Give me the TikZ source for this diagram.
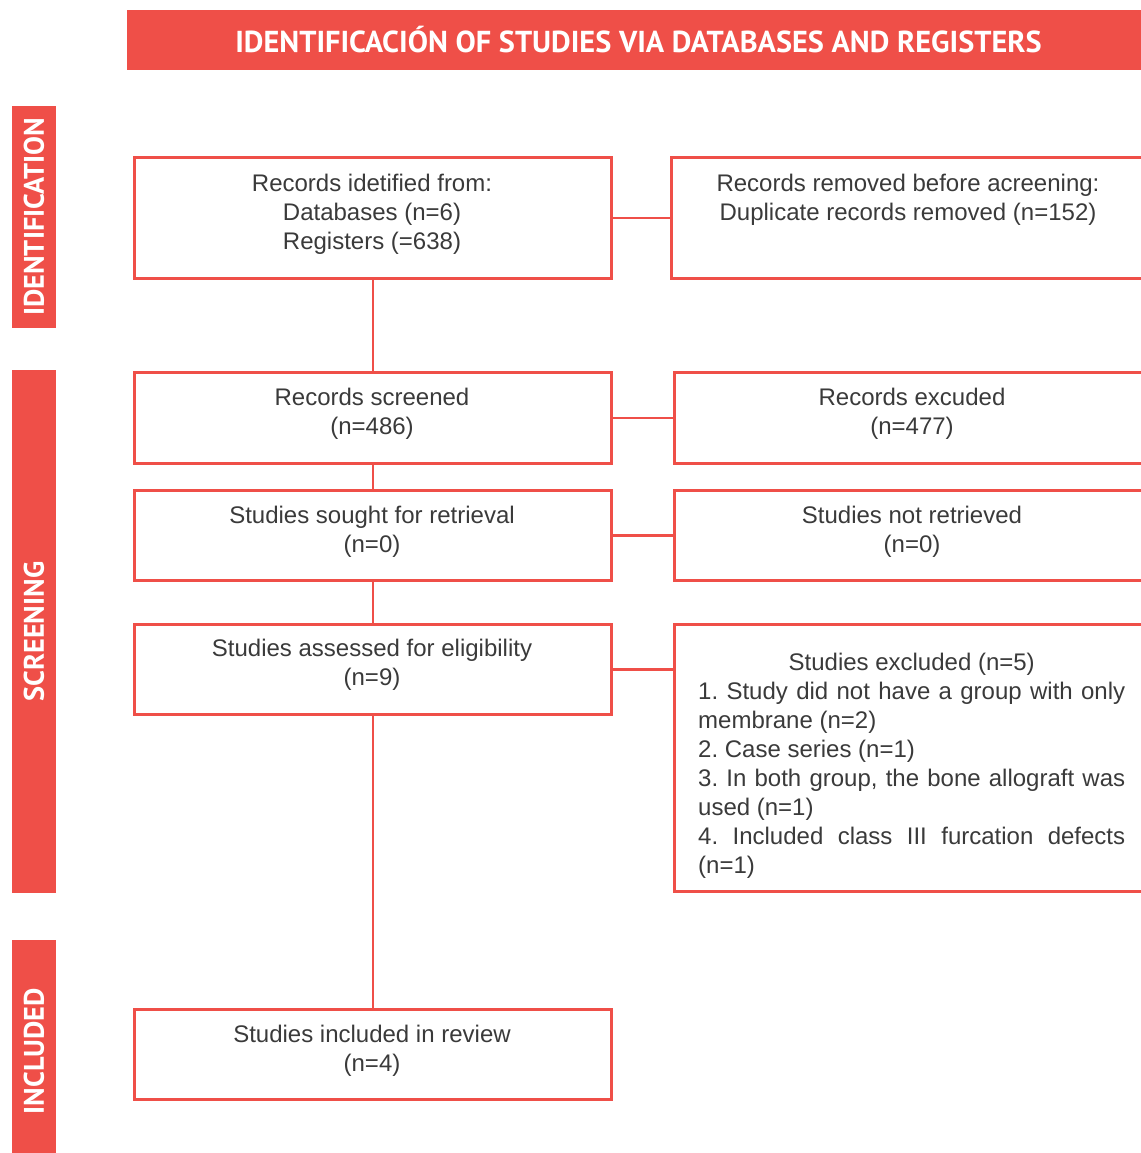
\documentclass[tikz,border=0pt]{standalone}
\usepackage{fontspec}
\setmainfont{Liberation Sans}
\newfontfamily\hdfont{PT Sans}
\definecolor{prred}{HTML}{EF4F48}
\definecolor{txtgray}{HTML}{3A3A3A}
\begin{document}
\begin{tikzpicture}[x=1pt,y=-1pt,
  box/.style={draw=prred, line width=2.6pt, inner sep=0pt, anchor=north west},
  conn/.style={draw=prred, line width=2.6pt},
  txt/.style={font=\fontsize{24}{29}\selectfont, text=txtgray, align=center, inner sep=0pt, anchor=base},
  bar/.style={fill=prred, inner sep=0pt, text=white, font=\hdfont\bfseries\fontsize{28.3}{30}\selectfont},
  side/.style={bar, rotate=90, minimum height=44pt}
]
\useasboundingbox (0,0) rectangle (1140,1153);
% banner
\node[bar, minimum width=1023pt, minimum height=60pt, font=\hdfont\bfseries\fontsize{30.3}{32}\selectfont] (banner) at (638.5,40) {IDENTIFICACIÓN OF STUDIES VIA DATABASES AND REGISTERS};
% side bars
\node[side, minimum width=222pt] (sid) at (34,217) {IDENTIFICATION};
\node[side, minimum width=523pt] (sscr) at (34,631.5) {SCREENING};
\node[side, minimum width=222pt] (sinc) at (34,1051) {INCLUDED};
% left boxes
\node[box, minimum width=477pt, minimum height=121pt] (b1) at (133,156) {};
\node[box, minimum width=477pt, minimum height=91pt] (b2) at (133,371) {};
\node[box, minimum width=477pt, minimum height=90pt] (b3) at (133,489) {};
\node[box, minimum width=477pt, minimum height=90pt] (b4) at (133,623) {};
\node[box, minimum width=477pt, minimum height=90pt] (b5) at (133,1008) {};
% right boxes
\node[box, minimum width=480pt, minimum height=121pt] (r1) at (670,156) {};
\node[box, minimum width=477pt, minimum height=91pt] (r2) at (673,371) {};
\node[box, minimum width=477pt, minimum height=90pt] (r3) at (673,489) {};
\node[box, minimum width=477pt, minimum height=267pt] (r4) at (673,623) {};
% texts (anchor = baseline of last line)
\node[txt] (t1) at (372,249) {Records idetified from:\\Databases (n=6)\\Registers (=638)};
\node[txt] (t2) at (372,434) {Records screened\\(n=486)};
\node[txt] (t3) at (372,552) {Studies sought for retrieval\\(n=0)};
\node[txt] (t4) at (372,685) {Studies assessed for eligibility\\(n=9)};
\node[txt] (t5) at (372,1071) {Studies included in review\\(n=4)};
\node[txt] (t6) at (908,220) {Records removed before acreening:\\Duplicate records removed (n=152)};
\node[txt] (t7) at (912,434) {Records excuded\\(n=477)};
\node[txt] (t8) at (912,552) {Studies not retrieved\\(n=0)};
\node[inner sep=0pt, anchor=base west, text=txtgray] (t9) at (698,670) {\parbox[t]{427pt}{\fontsize{24}{29}\selectfont\parindent=0pt\tolerance=10000\frenchspacing
{\centering Studies excluded (n=5)\par}
1. Study did not have a group with only\linebreak membrane (n=2)\par
2. Case series (n=1)\par
3. In both group, the bone allograft was\linebreak used (n=1)\par
4. Included class III furcation defects\linebreak (n=1)}};
% connectors
\draw[conn] (b1.south) -- (b2.north);
\draw[conn] (b2.south) -- (b3.north);
\draw[conn] (b3.south) -- (b4.north);
\draw[conn] (b4.south) -- (b5.north);
\draw[conn] (b1.east) -- (b1.east -| r1.west);
\draw[conn] (b2.east) -- (b2.east -| r2.west);
\draw[conn] (b3.east) -- (b3.east -| r3.west);
\draw[conn] (b4.east) -- (b4.east -| r4.west);
\end{tikzpicture}
\end{document}
